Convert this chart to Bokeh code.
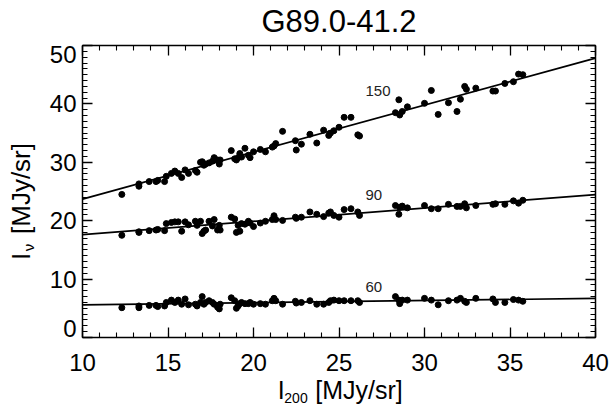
import numpy as np
from bokeh.plotting import figure
from bokeh.models import Range1d, LinearAxis, SingleIntervalTicker, Label
from bokeh.embed import file_html
from bokeh.resources import INLINE

# ---------------- data ----------------
title_text = "G89.0-41.2"
x_label_main = "I"
x_label_sub = "200"
y_label_main = "I"
y_label_sub = "\u03bd"
unit_text = "[MJy/sr]"

x_lo, x_hi = 10, 40
y_lo, y_hi = 0, 50

i200 = [12.3, 13.3, 13.3, 13.9, 14.3, 14.4, 14.8, 14.9, 15.2, 15.4, 15.6, 15.8, 16.0, 16.2,
        16.6, 16.7, 16.9, 17.0, 17.1, 17.2, 17.4, 17.6, 17.7, 17.9, 18.0, 18.05, 18.7, 18.9,
        19.0, 19.1, 19.2, 19.3, 19.5, 19.7, 19.8, 20.0, 20.4, 20.7, 21.1, 21.2, 21.3, 21.7,
        22.45, 22.5, 22.8, 23.3, 23.7, 24.1, 24.4, 24.5, 24.7, 25.0, 25.3, 25.7, 26.1, 26.2,
        28.3, 28.5, 28.55, 28.7, 29.0, 30.0, 30.4, 30.8, 31.4, 31.9, 32.1, 32.35, 32.45, 33.0,
        34.0, 34.15, 34.7, 35.2, 35.5, 35.75]
i150 = [24.5, 25.9, 26.3, 26.7, 26.7, 26.9, 26.7, 27.6, 28.1, 28.5, 28.1, 27.4, 28.7, 28.1,
        28.6, 28.3, 30.0, 30.1, 29.5, 29.7, 29.9, 30.2, 30.8, 30.4, 29.7, 30.4, 32.0, 30.6,
        30.4, 30.8, 31.5, 30.9, 32.4, 31.2, 30.8, 31.8, 32.2, 31.8, 32.6, 32.8, 33.2, 35.3,
        33.7, 32.1, 33.1, 34.8, 33.3, 35.5, 34.6, 35.0, 35.4, 36.0, 37.7, 37.7, 34.7, 34.5,
        38.5, 40.7, 38.1, 38.7, 39.5, 40.1, 42.3, 38.2, 40.2, 38.7, 40.8, 43.0, 42.5, 42.7,
        42.2, 42.2, 43.5, 43.8, 45.1, 45.0]
i90 = [17.5, 18.0, 18.1, 18.3, 18.4, 18.5, 18.3, 19.5, 19.7, 19.8, 19.8, 18.2, 19.8, 19.3,
       19.9, 19.2, 19.9, 17.8, 18.2, 18.4, 19.9, 19.1, 20.2, 18.4, 19.2, 18.4, 20.6, 20.3,
       18.0, 19.2, 18.2, 19.5, 19.4, 19.9, 19.6, 19.0, 19.6, 19.9, 20.2, 20.85, 20.2, 20.05,
       20.6, 20.4, 20.6, 21.5, 21.1, 20.7, 21.3, 21.5, 20.9, 20.6, 21.9, 22.05, 21.5, 20.9,
       22.6, 21.1, 22.3, 22.5, 22.2, 22.6, 22.05, 22.05, 22.8, 22.45, 22.45, 22.9, 22.2, 22.6,
       22.8, 22.9, 22.8, 23.4, 23.0, 23.5]
i60 = [5.1, 5.1, 5.4, 5.5, 5.5, 5.3, 5.4, 6.0, 6.4, 6.0, 6.4, 5.7, 6.6, 5.6,
       5.7, 5.4, 6.0, 7.0, 5.7, 6.0, 6.3, 6.0, 5.7, 5.2, 4.9, 5.7, 6.8, 6.3,
       5.0, 5.4, 5.8, 6.0, 5.8, 5.8, 6.0, 5.7, 5.8, 5.7, 6.3, 6.7, 6.3, 5.7,
       6.2, 5.9, 6.0, 6.3, 5.7, 5.7, 6.0, 6.3, 6.4, 6.3, 6.3, 6.3, 6.3, 6.0,
       7.0, 6.4, 5.8, 6.4, 6.4, 6.7, 6.4, 5.6, 6.3, 6.4, 6.7, 6.2, 6.0, 6.7,
       6.6, 6.0, 6.0, 6.5, 6.4, 6.2]

fit_names = ["150", "90", "60"]
fit_slope = [0.805, 0.229, 0.0367]
fit_icpt = [15.65, 15.31, 5.23]
series = [i150, i90, i60]

# ---------------- layout ----------------
W, H = 612, 405
FL, FR, FT, FB = 82, 595, 45, 337     # plot box in canvas pixels
sx = (FR - FL) / (x_hi - x_lo)
sy = (FB - FT) / (y_hi - y_lo)
FONT = "Liberation Sans"


def px2x(px):
    return x_lo + (px - FL) / sx


def py2y(py):
    return y_lo + (FB - py) / sy


p = figure(width=W, height=H,
           x_range=Range1d(px2x(0), px2x(W)), y_range=Range1d(py2y(H), py2y(0)),
           output_backend="svg", toolbar_location=None, min_border=0)
p.xgrid.visible = False
p.ygrid.visible = False
p.outline_line_color = None
p.background_fill_color = "white"
p.border_fill_color = "white"


def style_axis(ax, ticker, loc, bounds, labels=True, standoff=6):
    ax.ticker = ticker
    ax.fixed_location = loc
    ax.bounds = bounds
    ax.axis_label = None
    ax.axis_line_color = "black"
    ax.axis_line_width = 1.5
    ax.major_tick_in = 10
    ax.major_tick_out = 0
    ax.minor_tick_in = 5
    ax.minor_tick_out = 0
    ax.major_tick_line_color = "black"
    ax.major_tick_line_width = 1.3
    ax.minor_tick_line_color = "black"
    ax.minor_tick_line_width = 1.1
    ax.major_label_text_font = FONT
    ax.major_label_text_color = "black"
    ax.major_label_standoff = standoff
    if labels:
        ax.major_label_text_font_size = "24px"
    else:
        ax.major_label_text_font_size = "0px"
        ax.major_label_text_color = None


def xticker():
    return SingleIntervalTicker(interval=5, num_minor_ticks=5)


def yticker():
    return SingleIntervalTicker(interval=10, num_minor_ticks=10)


style_axis(p.xaxis[0], xticker(), y_lo, (x_lo, x_hi), True, 16)
style_axis(p.yaxis[0], yticker(), x_lo, (y_lo, y_hi), True, 6)
# end labels of the y axis sit slightly inside the box, as in the original
p.yaxis[0].major_label_overrides = {y_lo: "", y_hi: ""}
for val, py in ((y_lo, 328), (y_hi, 53.5)):
    p.add_layout(Label(x=px2x(FL - 6), y=py2y(py), text=str(val), text_font=FONT,
                       text_font_size="24px", text_color="black",
                       text_align="right", text_baseline="middle"))

top_ax = LinearAxis()
right_ax = LinearAxis()
style_axis(top_ax, xticker(), y_hi, (x_lo, x_hi), False, 0)
style_axis(right_ax, yticker(), x_hi, (y_lo, y_hi), False, 0)
p.add_layout(top_ax, "above")
p.add_layout(right_ax, "right")

# fit lines and points
xs = np.array([x_lo, x_hi], dtype=float)
for ys, m, b in zip(series, fit_slope, fit_icpt):
    p.line(xs, b + m * xs, line_color="black", line_width=1.7)
    p.scatter(i200, ys, size=6, marker="circle", fill_color="black", line_color="black")

# series labels
label_py = [90, 194, 286.7]
for name, py in zip(fit_names, label_py):
    p.add_layout(Label(x=px2x(365), y=py2y(py), text=name, text_font=FONT,
                       text_font_size="15px", text_color="#222222",
                       text_align="left", text_baseline="middle"))

# title
p.add_layout(Label(x=px2x((FL + FR) / 2), y=py2y(21), text=title_text, text_font=FONT,
                   text_font_size="31px", text_color="black",
                   text_align="center", text_baseline="middle"))

# x axis label
p.add_layout(Label(x=px2x(280.6), y=py2y(389), text=x_label_main, text_font=FONT,
                   text_font_size="25px", text_color="black",
                   text_align="center", text_baseline="middle"))
p.add_layout(Label(x=px2x(295.5), y=py2y(397), text=x_label_sub, text_font=FONT,
                   text_font_size="14px", text_color="black",
                   text_align="center", text_baseline="middle"))
p.add_layout(Label(x=px2x(358.5), y=py2y(389), text=unit_text, text_font=FONT,
                   text_font_size="25px", text_color="black",
                   text_align="center", text_baseline="middle"))

# y axis label (rotated)
rot = np.pi / 2
p.add_layout(Label(x=px2x(20), y=py2y(256), text=y_label_main, text_font=FONT, angle=rot,
                   text_font_size="26px", text_color="black",
                   text_align="center", text_baseline="middle"))
p.add_layout(Label(x=px2x(28), y=py2y(247), text=y_label_sub, text_font=FONT, angle=rot,
                   text_font_size="15px", text_color="black",
                   text_align="center", text_baseline="middle"))
p.add_layout(Label(x=px2x(20), y=py2y(188), text=unit_text, text_font=FONT, angle=rot,
                   text_font_size="26px", text_color="black",
                   text_align="center", text_baseline="middle"))

open("out.html", "w").write(file_html(p, INLINE))
